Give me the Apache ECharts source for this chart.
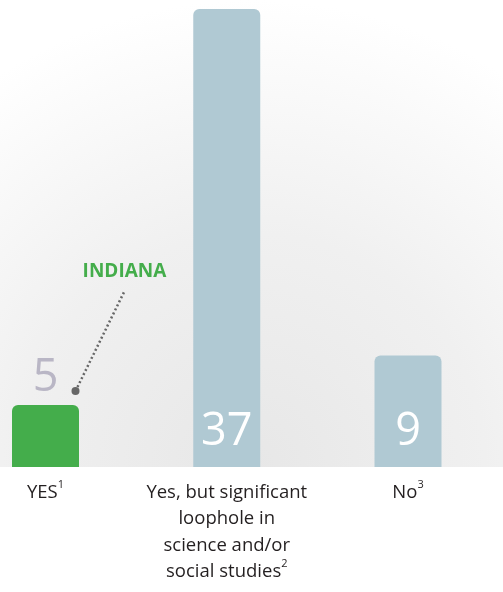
<!DOCTYPE html>
<html><head><meta charset="utf-8">
<script src="https://cdn.jsdelivr.net/npm/echarts@6/dist/echarts.min.js"></script>
<style>html,body{margin:0;padding:0;background:#fff}#c{width:503px;height:592px}</style>
</head><body><div id="c"></div>
<script>
var categories = ['YES', 'Yes, but significant\nloophole in\nscience and/or\nsocial studies', 'No'];
var footnotes = ['1', '2', '3'];
var values = [5, 37, 9];
var highlightIndex = 0;
var highlightLabel = 'INDIANA';

var chart = echarts.init(document.getElementById('c'), null, {renderer: 'canvas'});
var green = '#44ad4b', blue = '#b0c9d3';
var font = '"Open Sans", Lato, sans-serif';

var option = {
  animation: false,
  backgroundColor: '#fff',
  grid: {left: 45.5, right: 95, top: 9, bottom: 125, containLabel: false},
  xAxis: {
    type: 'category', data: categories, boundaryGap: false,
    axisLine: {show: false}, axisTick: {show: false}, splitLine: {show: false},
    axisLabel: {
      margin: 12, color: '#231f20', fontFamily: font, fontSize: 18.5, lineHeight: 26.5,
      interval: 0,
      formatter: function (v, i) { return v + '{sup|' + footnotes[i] + '}'; },
      rich: {sup: {fontSize: 11, fontFamily: font, color: '#231f20', verticalAlign: 'top', lineHeight: 26.5, padding: [0, 0, 6, 0]}}
    }
  },
  yAxis: {type: 'value', min: 0, max: 37, show: false, splitLine: {show: false}},
  series: [{
    type: 'bar', barWidth: 67, clip: false,
    data: values.map(function (v, i) {
      var hl = i === highlightIndex;
      return {
        value: v,
        itemStyle: {color: hl ? green : blue, borderRadius: [6, 6, 0, 0]},
        label: hl ? {show: true, position: 'top', distance: 4, color: '#b9b6c5', fontSize: 45, fontFamily: font}
                  : {show: true, position: 'insideBottom', distance: 12, color: '#fff', fontSize: 45, fontFamily: font}
      };
    }),
    label: {show: true}
  }]
};
chart.setOption(option);

// background glow and annotation, positioned from axis-converted pixels
var base = chart.convertToPixel({gridIndex: 0}, [0, 0]);
var top5 = chart.convertToPixel({gridIndex: 0}, [highlightIndex, values[highlightIndex]]);
var dot = [top5[0] + 30, top5[1] - 14];
var lineEnd = [dot[0] + 49, dot[1] - 100];
chart.setOption({
  graphic: [
    {type: 'rect', z: -10, silent: true,
     shape: {x: 0, y: 0, width: 503, height: base[1]},
     style: {fill: {type: 'radial', x: 0.5, y: 1, r: 1.0, colorStops: [
       {offset: 0, color: '#e7e7e7'}, {offset: 0.5, color: '#f0f0f0'}, {offset: 1, color: '#ffffff'}]}}},
    {type: 'line', z: 10, shape: {x1: dot[0], y1: dot[1], x2: lineEnd[0], y2: lineEnd[1]},
     style: {stroke: '#666', lineWidth: 2.5, lineDash: [2, 2.5]}},
    {type: 'circle', z: 11, shape: {cx: dot[0], cy: dot[1], r: 4}, style: {fill: '#666'}},
    {type: 'text', z: 11, x: lineEnd[0], y: lineEnd[1] - 10,
     style: {text: highlightLabel, fill: green, font: 'bold 19px ' + font, align: 'center', verticalAlign: 'bottom'}}
  ]
});
</script></body></html>
